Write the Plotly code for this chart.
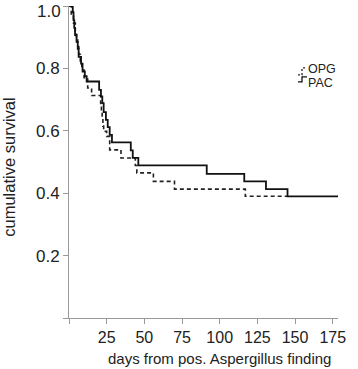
import plotly.graph_objects as go

# Kaplan-Meier step data
opg_days = [0, 1.5, 3, 4.2, 5, 5.8, 6.5, 7.5, 8.5, 10, 12.4, 15, 21, 21.5, 22, 22.5, 23, 25, 27, 34.5, 44, 45, 56, 70, 117, 145]
opg_surv = [1.0, 0.97, 0.945, 0.92, 0.895, 0.87, 0.845, 0.82, 0.795, 0.77, 0.737, 0.713, 0.688, 0.663, 0.64, 0.615, 0.598, 0.582, 0.539, 0.513, 0.489, 0.465, 0.438, 0.413, 0.39, 0.39]

pac_days = [0, 2.5, 3, 3.5, 4, 5, 5.8, 6.4, 8, 9, 10.5, 11.7, 20, 21.2, 22.1, 23, 24.5, 25.7, 27, 28.5, 41, 42.3, 46, 91.4, 116.3, 130.7, 145, 178.7]
pac_surv = [1.0, 0.98, 0.955, 0.93, 0.907, 0.885, 0.863, 0.837, 0.815, 0.79, 0.775, 0.758, 0.731, 0.71, 0.689, 0.66, 0.635, 0.612, 0.587, 0.563, 0.537, 0.513, 0.489, 0.462, 0.438, 0.413, 0.39, 0.39]

x_ticks = [0, 25, 50, 75, 100, 125, 150, 175]
x_ticklabels = ["", "25", "50", "75", "100", "125", "150", "175"]
y_ticks = [0, 0.2, 0.4, 0.6, 0.8, 1.0]
y_ticklabels = ["", "0.2", "0.4", "0.6", "0.8", ""]
y_top_label = "1.0"  # drawn separately, nudged down so it stays inside the page

FONT = "Liberation Sans, Arial, sans-serif"

fig = go.Figure()
fig.add_trace(go.Scatter(x=opg_days, y=opg_surv, mode="lines", line_shape="hv",
                         line=dict(color="#222", width=1.6, dash="4px,3px"),
                         name="OPG", cliponaxis=False))
fig.add_trace(go.Scatter(x=pac_days, y=pac_surv, mode="lines", line_shape="hv",
                         line=dict(color="#111", width=1.8),
                         name="PAC", cliponaxis=False))

W, H = 358, 369
L, R, T, B = 69, 20, 6, 50.5
PW, PH = W - L - R, H - T - B


def px(x):
    return (x - L) / PW


def py(y):
    return 1 - (y - T) / PH


fig.update_layout(
    width=W, height=H,
    margin=dict(l=L, r=R, t=T, b=B, pad=0, autoexpand=False),
    paper_bgcolor="white", plot_bgcolor="white",
    showlegend=False,
    font=dict(family=FONT, size=14, color="#222"),
    xaxis=dict(range=[0, 178.5], tickvals=x_ticks, ticktext=x_ticklabels, automargin=False,
               showgrid=False, zeroline=False, showline=True, linecolor="#999", linewidth=1,
               ticks="outside", ticklen=5, tickcolor="#999", tickfont=dict(size=16),
               ticklabeloverflow="allow"),
    yaxis=dict(range=[0, 1.0], tickvals=y_ticks, ticktext=y_ticklabels, automargin=False,
               showgrid=False, zeroline=False, showline=True, linecolor="#999", linewidth=1,
               ticks="outside", ticklen=5, tickcolor="#999", tickfont=dict(size=17),
               ticklabeloverflow="allow"),
)

fig.add_annotation(text=y_top_label, xref="paper", yref="paper", x=px(62), y=py(12),
                   showarrow=False, font=dict(size=17), xanchor="right", yanchor="middle",
                   borderpad=0)

# axis titles
fig.add_annotation(text="days from pos. Aspergillus finding", xref="paper", yref="paper",
                   x=px(219), y=py(359), showarrow=False, font=dict(size=15),
                   xanchor="center", yanchor="middle")
fig.add_annotation(text="cumulative survival", xref="paper", yref="paper",
                   x=px(9), y=py(168), textangle=-90,
                   showarrow=False, font=dict(size=16.5), xanchor="center", yanchor="middle")

# legend labels
fig.add_annotation(text="OPG", xref="paper", yref="paper", x=px(307), y=py(69.5),
                   showarrow=False, font=dict(size=12.5), xanchor="left", yanchor="middle",
                   borderpad=0)
fig.add_annotation(text="PAC", xref="paper", yref="paper", x=px(307), y=py(83.5),
                   showarrow=False, font=dict(size=12.5), xanchor="left", yanchor="middle",
                   borderpad=0)
# legend step glyphs
fig.add_shape(type="path", xref="paper", yref="paper",
              path="M {:.4f},{:.4f} H {:.4f} V {:.4f} H {:.4f}".format(
                  px(298), py(75), px(302), py(68), px(306)),
              line=dict(color="#222", width=1.3, dash="2px,2px"))
fig.add_shape(type="path", xref="paper", yref="paper",
              path="M {:.4f},{:.4f} H {:.4f} V {:.4f} H {:.4f}".format(
                  px(298), py(82), px(302), py(77), px(307)),
              line=dict(color="#111", width=1.3))

fig.write_html("out.html", config={"displayModeBar": False},
               post_script="document.body.style.margin='0';document.body.style.overflow='hidden';")
